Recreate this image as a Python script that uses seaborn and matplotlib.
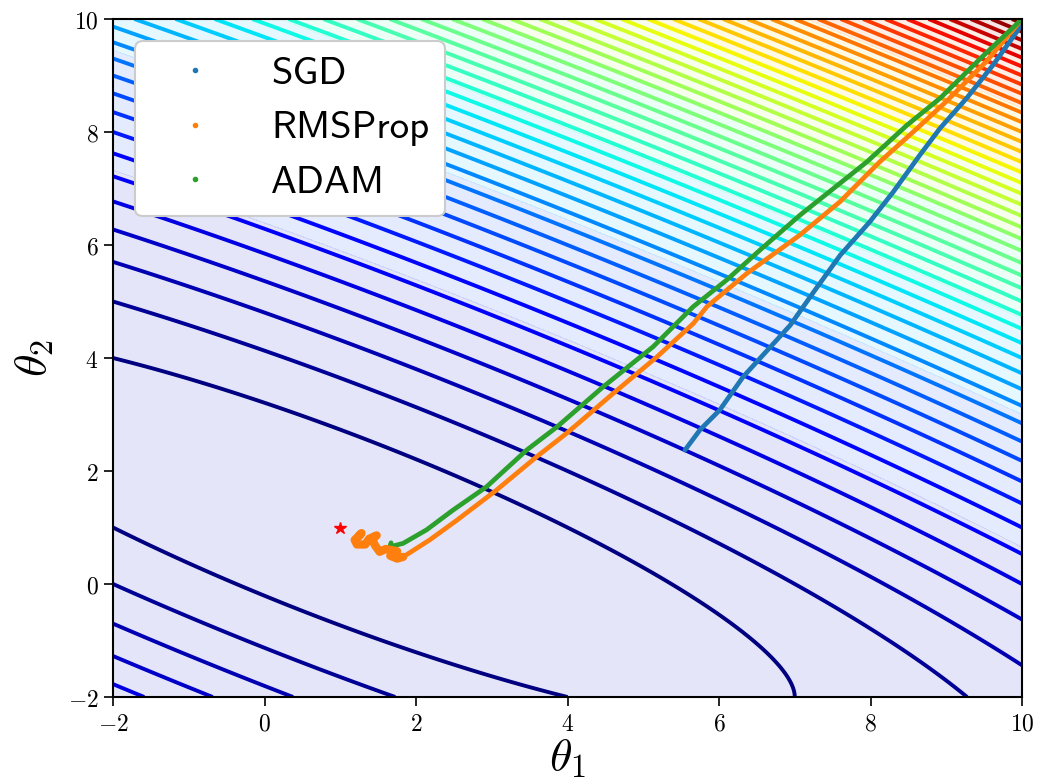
import numpy as np
import pandas as pd
import matplotlib
matplotlib.use("Agg")
import matplotlib.pyplot as plt
from matplotlib.lines import Line2D
from matplotlib.ticker import FuncFormatter
import seaborn as sns

# Superficie de pérdida cuadrática: L = c0 + a11*d1^2 + a12*d1*d2 + a22*d2^2
theta_opt = [1.0, 1.0]
loss_offset = 1.0
a11 = 1.0 / 3.0
a12 = 1.0
a22 = 1.0
line_levels = list(range(4, 190, 4))
fill_levels = [0, 25, 50, 75, 100, 125, 150, 175, 200]

# Trayectorias
sgd_t1 = [10.0, 9.95, 9.62, 9.27, 8.92, 8.65, 8.30, 7.99, 7.60, 7.25, 6.94, 6.32, 6.01, 5.75, 5.55]
sgd_t2 = [10.0, 9.81, 9.19, 8.60, 8.07, 7.59, 6.94, 6.41, 5.82, 5.17, 4.58, 3.67, 3.08, 2.73, 2.37]

rms_t1 = [10.0, 9.53, 9.00, 8.57, 8.12, 7.60, 7.07, 6.37, 5.84, 5.66, 5.18, 4.60, 3.99, 3.59,
          3.06, 2.54, 2.18, 1.83, 1.75, 1.66, 1.75, 1.60, 1.52, 1.46, 1.42, 1.48, 1.38,
          1.33, 1.22, 1.19, 1.28, 1.25]
rms_t2 = [10.0, 9.25, 8.54, 8.01, 7.47, 6.77, 6.18, 5.50, 4.91, 4.61, 4.02, 3.37, 2.67, 2.25,
          1.66, 1.13, 0.78, 0.48, 0.45, 0.50, 0.58, 0.62, 0.57, 0.68, 0.80, 0.86, 0.80,
          0.70, 0.70, 0.78, 0.90, 0.85]

adam_t1 = [10.0, 9.45, 8.92, 8.48, 7.95, 7.51, 7.07, 6.54, 6.10, 5.66, 5.13, 4.47, 3.86,
           3.46, 2.93, 2.49, 2.14, 1.83, 1.66, 1.65, 1.67]
adam_t2 = [10.0, 9.30, 8.60, 8.12, 7.47, 7.00, 6.53, 5.91, 5.38, 4.91, 4.20, 3.49, 2.78,
           2.37, 1.72, 1.31, 0.96, 0.72, 0.66, 0.64, 0.73]

methods = ['SGD', 'RMSProp', 'ADAM']
colors = ['#1f77b4', '#ff7f0e', '#2ca02c']

df = pd.concat([
    pd.DataFrame({'theta1': sgd_t1, 'theta2': sgd_t2, 'method': 'SGD'}),
    pd.DataFrame({'theta1': rms_t1, 'theta2': rms_t2, 'method': 'RMSProp'}),
    pd.DataFrame({'theta1': adam_t1, 'theta2': adam_t2, 'method': 'ADAM'}),
], ignore_index=True)

# Malla de la función
t1 = np.linspace(-2, 10, 400)
t2 = np.linspace(-2, 10, 400)
T1, T2 = np.meshgrid(t1, t2)
D1 = T1 - theta_opt[0]
D2 = T2 - theta_opt[1]
Z = loss_offset + a11 * D1**2 + a12 * D1 * D2 + a22 * D2**2

sns.set_style("ticks")
plt.rcParams['mathtext.fontset'] = 'cm'
plt.rcParams['text.color'] = 'black'
plt.rcParams['axes.labelcolor'] = 'black'
plt.rcParams['xtick.color'] = 'black'
plt.rcParams['ytick.color'] = 'black'

fig = plt.figure(figsize=(10.4, 7.8), dpi=100)
ax = fig.add_axes([0.1087, 0.1064, 0.8740, 0.8692])

ax.contourf(T1, T2, Z, levels=fill_levels, cmap='jet', alpha=0.1)
ax.contour(T1, T2, Z, levels=line_levels, cmap='jet', linewidths=2.8)

sns.lineplot(data=df, x='theta1', y='theta2', hue='method', hue_order=methods,
             palette=colors, sort=False, estimator=None, linewidth=3.4,
             legend=False, ax=ax)
# la oscilación final de RMSProp se ve como una mancha más gruesa
ax.plot(rms_t1[17:], rms_t2[17:], color=colors[1], linewidth=6, solid_capstyle='round',
        solid_joinstyle='round')
ax.plot(theta_opt[0], theta_opt[1], marker='*', color='red', markersize=9, linestyle='none')

ax.set_xlim(-2, 10)
ax.set_ylim(-2, 10)
ax.set_xticks([-2, 0, 2, 4, 6, 8, 10])
ax.set_yticks([-2, 0, 2, 4, 6, 8, 10])
fmt = FuncFormatter(lambda v, p: r'$%d$' % v)
ax.xaxis.set_major_formatter(fmt)
ax.yaxis.set_major_formatter(fmt)
ax.tick_params(labelsize=17, length=6.5, width=1.2, color='black', labelcolor='black', pad=4)
ax.set_xlabel(r'$\theta_1$', fontsize=33, labelpad=0, color='black')
ax.set_ylabel(r'$\theta_2$', fontsize=33, labelpad=8, color='black')
for s in ax.spines.values():
    s.set_color('black')
    s.set_linewidth(1.5)

handles = [Line2D([], [], marker='o', markersize=3, linestyle='none', color=c) for c in colors]
leg = ax.legend(handles, methods, loc='upper left', bbox_to_anchor=(0.024, 0.968),
                prop={'family': 'cmss10', 'size': 28}, handlelength=2.3,
                framealpha=1, fancybox=True, borderaxespad=0, labelcolor='black')
leg.get_frame().set_edgecolor('#cccccc')
leg.get_frame().set_linewidth(1.5)

fig.savefig('out.png', dpi=100)
